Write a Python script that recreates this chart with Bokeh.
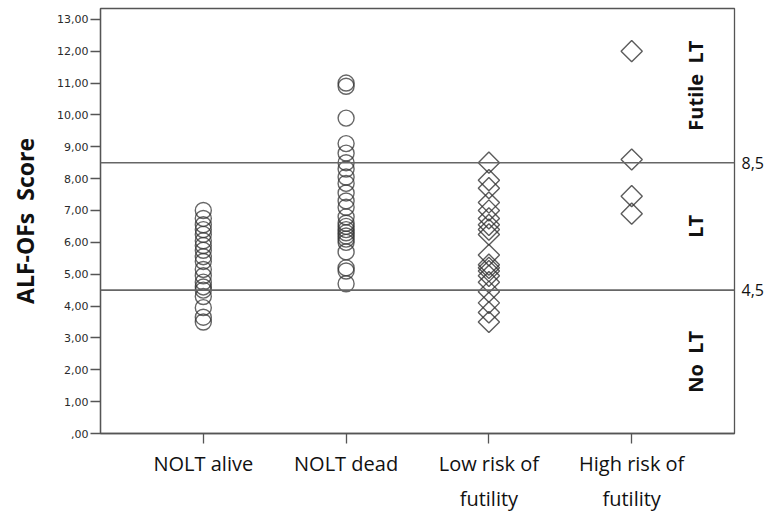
import math
from bokeh.plotting import figure
from bokeh.models import ColumnDataSource, FixedTicker, LinearAxis, Span, Range1d
from bokeh.core.properties import value
from bokeh.embed import file_html
from bokeh.resources import INLINE

categories = ["NOLT alive", "NOLT dead", "Low risk of\nfutility", "High risk of\nfutility"]

nolt_alive = [7.0, 6.75, 6.55, 6.4, 6.25, 6.05, 5.9, 5.75, 5.55, 5.4, 5.15, 4.95, 4.75, 4.6, 4.5, 4.3, 3.95, 3.65, 3.5]
nolt_dead = [11.0, 10.9, 9.9, 9.1, 8.8, 8.5, 8.3, 8.05, 7.85, 7.55, 7.3, 7.1, 6.8, 6.6, 6.5, 6.4, 6.3, 6.2, 6.1, 6.0, 5.7, 5.2, 5.1, 4.7]
low_risk = [8.5, 7.95, 7.7, 7.25, 7.0, 6.75, 6.55, 6.4, 6.25, 5.6, 5.3, 5.2, 5.1, 4.95, 4.75, 4.45, 4.1, 3.8, 3.5]
high_risk = [12.0, 8.6, 7.45, 6.9]

thresholds = [8.5, 4.5]
threshold_labels = ["8,5", "4,5"]
band_labels = ["Futile\u00a0\u00a0LT", "LT", "No\u00a0\u00a0LT"]
y_ticks = list(range(0, 14))
y_tick_labels = [",00"] + [f"{i},00" for i in range(1, 14)]

Y_MAX = 13.34
X0, X1 = 0.28, 4.72

p = figure(width=777, height=514, x_range=Range1d(X0, X1), y_range=Range1d(0, Y_MAX),
           output_backend="svg", toolbar_location=None,
           min_border_left=100, min_border_right=43, min_border_top=8, min_border_bottom=80)
p.xgrid.visible = False
p.ygrid.visible = False
p.background_fill_color = "white"
p.border_fill_color = "white"
p.outline_line_color = "#555555"
p.outline_line_width = 1.3

# axes
yax = p.yaxis[0]
yax.ticker = FixedTicker(ticks=y_ticks)
yax.major_label_overrides = {t: l for t, l in zip(y_ticks, y_tick_labels)}
yax.minor_tick_line_color = None
yax.major_tick_in = 0
yax.major_tick_out = 10
yax.axis_line_color = "#555555"
yax.axis_line_width = 1.3
yax.major_tick_line_color = "#555555"
yax.major_tick_line_width = 1.3
yax.major_label_text_font = "DejaVu Sans"
yax.major_label_text_font_size = "11px"
yax.major_label_text_color = "#2a2a2a"
yax.major_label_standoff = 2
yax.axis_label = "ALF-OFs\u00a0\u00a0Score"
yax.axis_label_text_font = "Open Sans"
yax.axis_label_text_font_style = "bold"
yax.axis_label_text_font_size = "23px"
yax.axis_label_text_color = "#111111"
yax.axis_label_standoff = 13

xax = p.xaxis[0]
xax.ticker = FixedTicker(ticks=[1, 2, 3, 4])
xax.major_label_overrides = {i + 1: c for i, c in enumerate(categories)}
xax.minor_tick_line_color = None
xax.major_tick_in = 0
xax.major_tick_out = 10
xax.axis_line_color = "#555555"
xax.axis_line_width = 1.3
xax.major_tick_line_color = "#555555"
xax.major_tick_line_width = 1.3
xax.major_label_text_font = "Open Sans"
xax.major_label_text_font_size = "20px"
xax.major_label_text_line_height = 1.3
xax.major_label_text_color = "#111111"
xax.major_label_standoff = 6

rax = LinearAxis(ticker=FixedTicker(ticks=thresholds),
                 major_label_overrides={t: l for t, l in zip(thresholds, threshold_labels)})
rax.axis_line_color = None
rax.major_tick_line_color = None
rax.minor_tick_line_color = None
rax.major_label_standoff = 1
rax.major_label_text_font = "Open Sans"
rax.major_label_text_font_size = "16px"
rax.major_label_text_color = "#111111"
p.add_layout(rax, "right")

for t in thresholds:
    p.add_layout(Span(location=t, dimension="width", line_color="#666666", line_width=1.6))

# points
circ_src = ColumnDataSource(dict(
    x=[1] * len(nolt_alive) + [2] * len(nolt_dead),
    y=nolt_alive + nolt_dead))
p.scatter("x", "y", source=circ_src, marker="circle", size=16, fill_color=None,
          line_color="#333333", line_alpha=0.75, line_width=1.4)

dia_src = ColumnDataSource(dict(
    x=[3] * len(low_risk) + [4] * len(high_risk),
    y=low_risk + high_risk))
p.scatter("x", "y", source=dia_src, marker="square", angle=math.pi / 4, size=15,
          fill_color=None, line_color="#333333", line_alpha=0.8, line_width=1.4)

# band labels
bounds = [Y_MAX] + thresholds + [0]
band_y = [(bounds[i] + bounds[i + 1]) / 2 for i in range(len(band_labels))]
band_src = ColumnDataSource(dict(x=[4.45] * len(band_labels), y=band_y, t=band_labels))
p.text("x", "y", text="t", source=band_src, angle=math.pi / 2,
       text_align="center", text_baseline="middle",
       text_font=value("Open Sans"), text_font_style="bold", text_font_size="20px",
       text_color="#111111")

open("out.html", "w").write(file_html(p, INLINE))
